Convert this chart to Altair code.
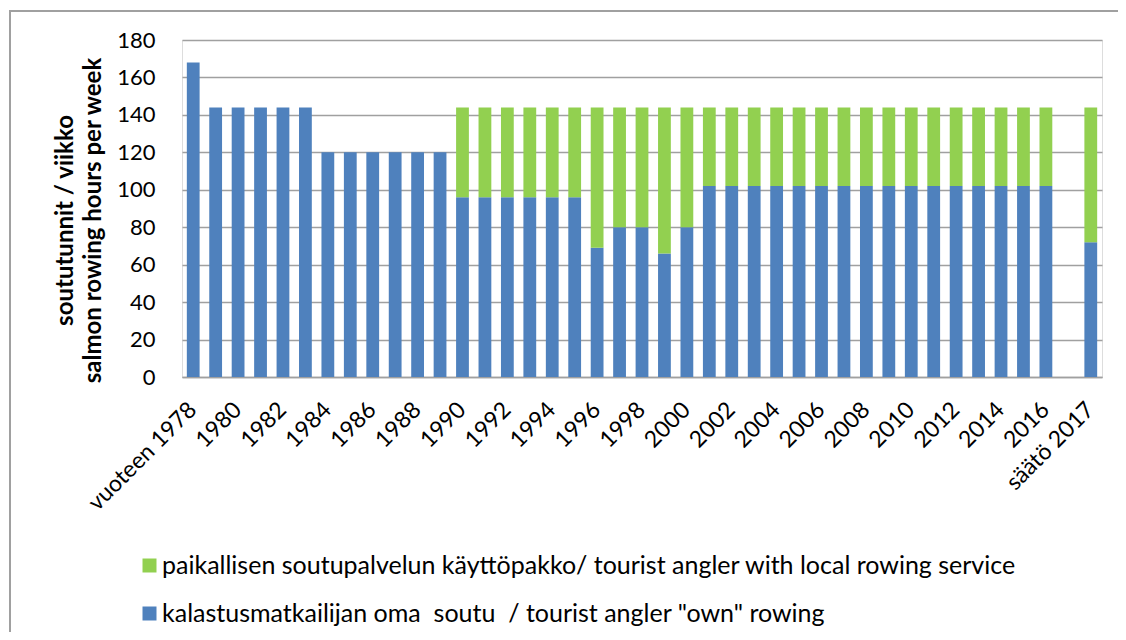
import altair as alt
import pandas as pd

categories = [
    "vuoteen 1978", "1979", "1980", "1981", "1982", "1983", "1984", "1985", "1986", "1987",
    "1988", "1989", "1990", "1991", "1992", "1993", "1994", "1995", "1996", "1997",
    "1998", "1999", "2000", "2001", "2002", "2003", "2004", "2005", "2006", "2007",
    "2008", "2009", "2010", "2011", "2012", "2013", "2014", "2015", "2016", " ", "säätö 2017",
]
own_rowing = [
    168, 144, 144, 144, 144, 144, 120, 120, 120, 120,
    120, 120, 96, 96, 96, 96, 96, 96, 69, 80,
    80, 66, 80, 102, 102, 102, 102, 102, 102, 102,
    102, 102, 102, 102, 102, 102, 102, 102, 102, 0, 72,
]
service_rowing = [
    0, 0, 0, 0, 0, 0, 0, 0, 0, 0,
    0, 0, 48, 48, 48, 48, 48, 48, 75, 64,
    64, 78, 64, 42, 42, 42, 42, 42, 42, 42,
    42, 42, 42, 42, 42, 42, 42, 42, 42, 0, 72,
]
tick_labels = [
    "vuoteen 1978", "1980", "1982", "1984", "1986", "1988", "1990", "1992", "1994", "1996",
    "1998", "2000", "2002", "2004", "2006", "2008", "2010", "2012", "2014", "2016", "säätö 2017",
]
series_names = [
    "\u00a0paikallisen soutupalvelun käyttöpakko/ tourist angler with local rowing service",
    "kalastusmatkailijan oma\u00a0 soutu\u00a0 / tourist angler \"own\" rowing",
]
series_colors = ["#92D050", "#4F81BD"]

rows = []
for c, o, s in zip(categories, own_rowing, service_rowing):
    rows.append({"cat": c, "series": series_names[1], "value": o, "ord": 0})
    rows.append({"cat": c, "series": series_names[0], "value": s, "ord": 1})
df = pd.DataFrame(rows)

FONT = "Lato"

bars = alt.Chart(df).mark_bar().encode(
    x=alt.X(
        "cat:N",
        sort=categories,
        scale=alt.Scale(paddingInner=0.43, paddingOuter=0.215),
        axis=alt.Axis(
            title=None,
            values=tick_labels,
            labelAngle=-45,
            labelFontSize=23,
            labelFont=FONT,
            labelColor="#000000",
            labelPadding=21,
            labelOffset=-8,
            ticks=False,
            domainColor="#A0A0A0",
            domainWidth=1.5,
            grid=False,
        ),
    ),
    y=alt.Y(
        "value:Q",
        stack="zero",
        scale=alt.Scale(domain=[0, 180], nice=False),
        axis=alt.Axis(
            title=["soututunnit / viikko", "salmon rowing hours per week"],
            titleFont=FONT,
            titleFontSize=24,
            titleFontWeight="bold",
            titleColor="#000000",
            titleLineHeight=28,
            titleX=-105,
            titleY=180,
            values=[0, 20, 40, 60, 80, 100, 120, 140, 160, 180],
            labelFontSize=22,
            labelFont=FONT,
            labelColor="#000000",
            labelPadding=27,
            ticks=False,
            domain=False,
            gridColor="#A0A0A0",
            gridWidth=1.3,
        ),
    ),
    color=alt.Color(
        "series:N",
        scale=alt.Scale(domain=series_names, range=series_colors),
        legend=alt.Legend(
            title=None,
            orient="none",
            legendX=-45,
            legendY=513,
            direction="vertical",
            labelFont=FONT,
            labelFontSize=25,
            labelColor="#000000",
            labelLimit=1000,
            symbolType="square",
            symbolSize=196,
            symbolStrokeWidth=0,
            rowPadding=22,
            labelOffset=0,
        ),
    ),
    order=alt.Order("ord:Q", sort="ascending"),
)

frame = alt.Chart(pd.DataFrame({"a": [0]})).mark_rect(
    fill="transparent", stroke="#A0A0A0", strokeWidth=2
).encode(
    x=alt.value(-172), x2=alt.value(1300), y=alt.value(-29), y2=alt.value(900)
)

chart = alt.layer(frame, bars).properties(
    width=920,
    height=337,
    autosize=alt.AutoSizeParams(type="none"),
    padding={"left": 174, "top": 32, "right": 16, "bottom": 255},
).configure_view(stroke=None).configure(background="#FFFFFF")

chart.save("out.html", embed_options={"renderer": "svg", "actions": False})
